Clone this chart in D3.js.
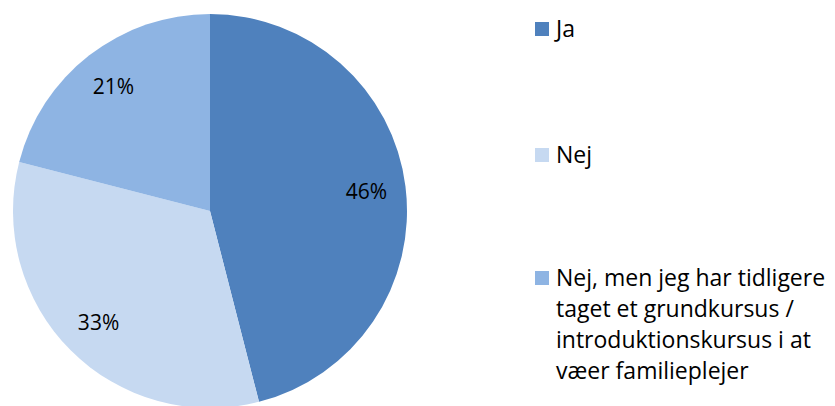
<!DOCTYPE html>
<html>
<head>
<meta charset="utf-8">
<script src="https://cdn.jsdelivr.net/npm/d3@7"></script>
<style>
  body { margin: 0; background: #fff; }
  text { font-family: "Open Sans", Lato, sans-serif; fill: #000; font-variant-ligatures: none; }
</style>
</head>
<body>
<div class="vis-pie"></div>
<script>
const categories = ["Ja", "Nej", "Nej, men jeg har tidligere taget et grundkursus / introduktionskursus i at væer familieplejer"];
const values = [46, 33, 21];
const colors = ["#4F81BD", "#C6D9F1", "#8EB4E3"];

const width = 835, height = 406;
const cx = 210, cy = 211, radius = 197;

const svg = d3.select(".vis-pie")
    .append("svg")
    .attr("width", width)
    .attr("height", height);

const data = categories.map((c, i) => ({category: c, value: values[i]}));

const color = d3.scaleOrdinal().domain(categories).range(colors);

const pie = d3.pie().sort(null).value(d => d.value);
const arc = d3.arc().innerRadius(0).outerRadius(radius);
const labelArc = d3.arc().innerRadius(radius * 0.8).outerRadius(radius * 0.8);

const g = svg.append("g").attr("transform", `translate(${cx},${cy})`);

g.selectAll("path")
    .data(pie(data))
    .enter()
    .append("path")
    .attr("d", arc)
    .attr("fill", d => color(d.data.category));

g.selectAll(".pct")
    .data(pie(data))
    .enter()
    .append("text")
    .attr("class", "pct")
    .attr("transform", d => `translate(${labelArc.centroid(d)})`)
    .attr("text-anchor", "middle")
    .attr("dy", "0.35em")
    .style("font-size", "21px")
    .text(d => d.data.value + "%");

// Legend
const legendX = 535, legendY = [22, 148, 271];
const lineH = 31, maxW = 280;

const legend = svg.selectAll(".legend")
    .data(data)
    .enter()
    .append("g")
    .attr("class", "legend")
    .attr("transform", (d, i) => `translate(${legendX}, ${legendY[i]})`);

legend.append("rect")
    .attr("width", 14)
    .attr("height", 14)
    .attr("fill", d => color(d.category));

legend.append("text")
    .attr("x", 21)
    .attr("y", 15)
    .style("font-size", "23px")
    .each(function(d) {
        const t = d3.select(this);
        const words = d.category.split(" ");
        let line = [];
        let tspan = t.append("tspan").attr("x", 21).attr("y", 15);
        let n = 0;
        words.forEach(w => {
            line.push(w);
            tspan.text(line.join(" "));
            if (tspan.node().getComputedTextLength() > maxW && line.length > 1) {
                line.pop();
                tspan.text(line.join(" "));
                line = [w];
                n++;
                tspan = t.append("tspan").attr("x", 21).attr("y", 15 + n * lineH).text(w);
            }
        });
    });
</script>
</body>
</html>
